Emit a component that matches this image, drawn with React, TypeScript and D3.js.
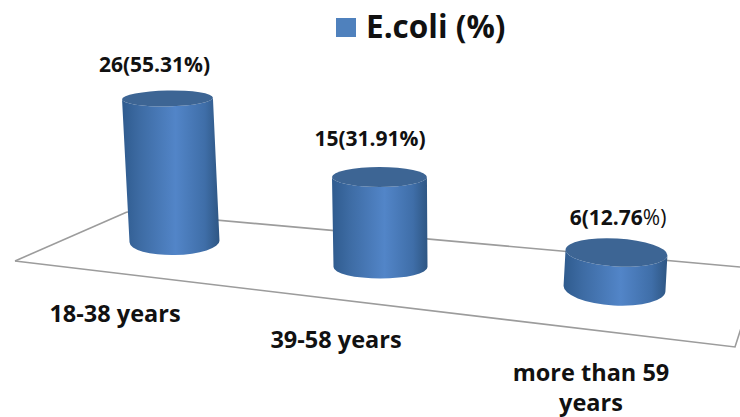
import React from "react";
import * as d3 from "d3";

const categories = ["18-38 years", "39-58 years", "more than 59 years"];
const counts = [26, 15, 6];
const percents = [55.31, 31.91, 12.76];
const seriesName = "E.coli (%)";

const FONT = "'Open Sans', 'Noto Sans', sans-serif";
const INK = "#111";

// Oblique projection of the chart floor: category index to base centre, radii and lean.
const index = [0, 1, 2];
const baseX = d3.scaleLinear<number>().domain(index).range([174.5, 380.5, 614.5]);
const baseY = d3.scaleLinear<number>().domain(index).range([241.5, 267, 288.5]);
const radiusX = d3.scaleLinear<number>().domain(index).range([45, 47, 51]);
const radiusY = d3.scaleLinear<number>().domain(index).range([13.5, 11.5, 17]);
const capRadiusY = d3.scaleLinear<number>().domain(index).range([8, 10, 14]);
const lean = d3.scaleLinear<number>().domain(index).range([-1.1, 0, 3.3]);
const shiftPerCount = d3.scaleLinear<number>().domain(index).range([-0.27, -0.07, 0.33]);
const unitHeight = d3.scaleLinear<number>().domain(index).range([5.5, 6, 6]);
const capRatio = d3.scaleLinear<number>().domain(index).range([1.01, 1.01, 1]);

// Where the value labels and the wrapped axis labels sit.
const valueLabelX = [154.5, 370, 618];
const valueLabelY = [71.5, 146, 224.5];
const axisLabelX = [115, 336, 591];
const axisLabelY = [322, 348, 381];
const axisLineGap = 30;
const axisLabelLines = [[categories[0]], [categories[1]], ["more than 59", "years"]];

const floorLine = d3.line();
const floorEdges: [number, number][][] = [
  [[15, 261], [127, 212]],
  [[127, 212], [740, 267]],
  [[15, 261], [735, 347], [742, 325]],
];

// Side wall of a tilted cylinder, bounded by its silhouette points and lower rim.
function cylinderBody(
  cx0: number, cy0: number, rx0: number, ry0: number,
  cx1: number, cy1: number, rx1: number, ry1: number, rot: number,
) {
  const a = (rot * Math.PI) / 180;
  const c = Math.cos(a), s = Math.sin(a);
  return [
    `M${cx1 - rx1 * c},${cy1 - rx1 * s}`,
    `L${cx0 - rx0 * c},${cy0 - rx0 * s}`,
    `A${rx0},${ry0} ${rot} 0 0 ${cx0 + rx0 * c},${cy0 + rx0 * s}`,
    `L${cx1 + rx1 * c},${cy1 + rx1 * s}`,
    `A${rx1},${ry1} ${rot} 0 1 ${cx1 - rx1 * c},${cy1 - rx1 * s}`,
    "Z",
  ].join(" ");
}

export default function App() {
  return (
    <svg
      width={740}
      height={417}
      style={{ position: "absolute", left: 0, top: 0, background: "#fff" }}
      fontFamily={FONT}
    >
      <defs>
        <linearGradient id="side" x1="0" x2="1" y1="0" y2="0">
          <stop offset="0" stopColor="#2f5b8e" />
          <stop offset="0.18" stopColor="#3d6ba3" />
          <stop offset="0.55" stopColor="#5285c8" />
          <stop offset="0.85" stopColor="#3f6ea8" />
          <stop offset="1" stopColor="#2e5683" />
        </linearGradient>
      </defs>

      <rect x={336} y={18} width={20} height={19} fill="#4f81bd" />
      <text x={366} y={38} fontSize={31.5} fontWeight={700} fill={INK}>{seriesName}</text>

      {floorEdges.map((pts, i) => (
        <path key={i} d={floorLine(pts) ?? ""} fill="none" stroke="#9c9c9c" strokeWidth={1.6} />
      ))}

      {categories.map((cat, i) => {
        const h = counts[i] * unitHeight(i);
        const cx1 = baseX(i), cy1 = baseY(i);
        const cx0 = cx1 + counts[i] * shiftPerCount(i);
        const cy0 = cy1 - h;
        const rx1 = radiusX(i), ry1 = radiusY(i);
        const rx0 = rx1 * capRatio(i);
        const ry0 = capRadiusY(i);
        const lastBar = i === categories.length - 1;
        return (
          <g key={cat}>
            <path d={cylinderBody(cx0, cy0, rx0, ry0, cx1, cy1, rx1, ry1, lean(i))} fill="url(#side)" />
            <ellipse
              cx={cx0}
              cy={cy0}
              rx={rx0}
              ry={ry0}
              fill="#3d6594"
              transform={`rotate(${lean(i)} ${cx0} ${cy0})`}
            />
            <text x={valueLabelX[i]} y={valueLabelY[i]} textAnchor="middle" fontSize={21} fontWeight={700} fill={INK}>
              {`${counts[i]}(${percents[i]}`}
              <tspan fontWeight={lastBar ? 400 : 700}>%)</tspan>
            </text>
            <text textAnchor="middle" fontSize={23.5} fontWeight={700} fill={INK}>
              {axisLabelLines[i].map((line, j) => (
                <tspan key={line} x={axisLabelX[i]} y={axisLabelY[i] + j * axisLineGap}>{line}</tspan>
              ))}
            </text>
          </g>
        );
      })}
    </svg>
  );
}
